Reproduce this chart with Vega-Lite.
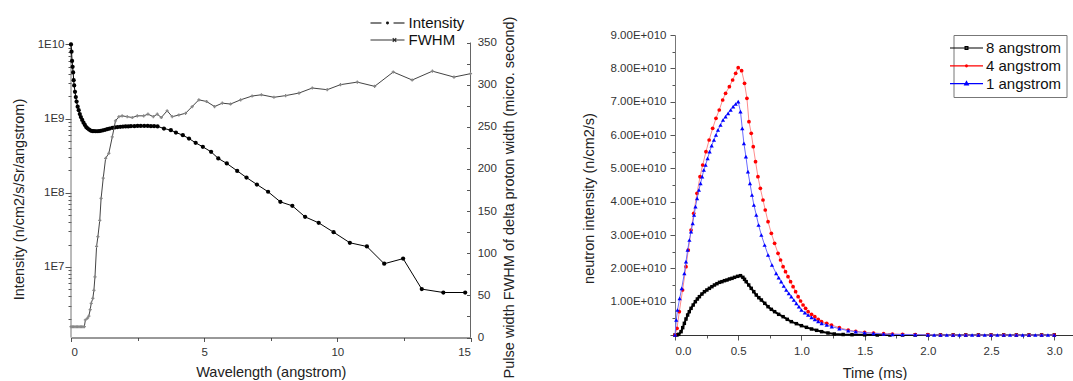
{
"$schema": "https://vega.github.io/schema/vega-lite/v6.json",
"background": "white",
"padding": {"left": 11, "top": 15, "right": 0, "bottom": 0},
"bounds": "flush",
"spacing": 204,
"resolve": {"scale": {"color": "independent", "shape": "independent"}, "legend": {"color": "independent", "shape": "independent"}},
"config": {
  "font": "Liberation Sans",
  "view": {"stroke": null},
  "axis": {"grid": false, "labelFont": "Liberation Sans", "titleFont": "Liberation Sans", "labelColor": "#333", "titleColor": "#222", "titleFontWeight": "normal", "domainColor": "#444", "tickColor": "#555", "labelFontSize": 11.5, "titleFontSize": 14.5},
  "legend": {"labelFont": "Liberation Sans", "labelColor": "#111"}
},
"datasets": {
  "intensity": [
    {"w":0,"v":1.0e10},{"w":0.02,"v":8.0e9},{"w":0.04,"v":6.0e9},{"w":0.06,"v":5.0e9},{"w":0.08,"v":4.2e9},{"w":0.10,"v":3.3e9},{"w":0.12,"v":2.8e9},{"w":0.15,"v":2.3e9},{"w":0.18,"v":1.95e9},{"w":0.21,"v":1.7e9},{"w":0.25,"v":1.45e9},{"w":0.29,"v":1.3e9},{"w":0.33,"v":1.15e9},{"w":0.37,"v":1.05e9},{"w":0.42,"v":9.6e8},{"w":0.47,"v":8.8e8},{"w":0.52,"v":8.2e8},{"w":0.57,"v":7.7e8},{"w":0.62,"v":7.4e8},{"w":0.68,"v":7.1e8},{"w":0.74,"v":6.9e8},{"w":0.80,"v":6.8e8},{"w":0.86,"v":6.8e8},{"w":0.92,"v":6.75e8},{"w":0.98,"v":6.75e8},{"w":1.05,"v":6.8e8},{"w":1.12,"v":6.85e8},{"w":1.20,"v":6.95e8},{"w":1.28,"v":7.05e8},{"w":1.36,"v":7.2e8},{"w":1.45,"v":7.35e8},{"w":1.55,"v":7.5e8},{"w":1.65,"v":7.6e8},{"w":1.75,"v":7.7e8},{"w":1.85,"v":7.75e8},{"w":1.95,"v":7.8e8},{"w":2.05,"v":7.85e8},{"w":2.15,"v":7.85e8},{"w":2.25,"v":7.9e8},{"w":2.38,"v":7.9e8},{"w":2.50,"v":7.95e8},{"w":2.62,"v":7.95e8},{"w":2.75,"v":7.95e8},{"w":2.88,"v":7.95e8},{"w":3.00,"v":7.9e8},{"w":3.12,"v":7.9e8},{"w":3.25,"v":7.85e8},
    {"w":3.49,"v":7.35e8},{"w":3.75,"v":6.98e8},{"w":3.94,"v":6.49e8},{"w":4.2,"v":5.97e8},{"w":4.43,"v":5.38e8},{"w":4.68,"v":4.71e8},{"w":4.95,"v":4.16e8},{"w":5.26,"v":3.56e8},{"w":5.53,"v":2.90e8},{"w":5.85,"v":2.48e8},{"w":6.24,"v":1.97e8},{"w":6.59,"v":1.60e8},{"w":6.98,"v":1.29e8},{"w":7.40,"v":1.03e8},{"w":7.86,"v":7.53e7},{"w":8.31,"v":6.65e7},{"w":8.79,"v":4.72e7},{"w":9.30,"v":3.92e7},{"w":9.86,"v":2.93e7},{"w":10.47,"v":2.11e7},{"w":11.11,"v":1.88e7},{"w":11.76,"v":1.10e7},{"w":12.47,"v":1.29e7},{"w":13.17,"v":5.0e6},{"w":13.98,"v":4.5e6},{"w":14.8,"v":4.5e6}
  ],
  "fwhm": [
    {"w":0,"v":12.8},{"w":0.05,"v":12.8},{"w":0.1,"v":12.8},{"w":0.15,"v":12.8},{"w":0.2,"v":12.8},{"w":0.25,"v":12.8},{"w":0.3,"v":12.8},{"w":0.35,"v":12.8},{"w":0.4,"v":12.8},{"w":0.45,"v":12.8},{"w":0.5,"v":12.8},{"w":0.54,"v":20.8},{"w":0.62,"v":23},{"w":0.67,"v":25.5},{"w":0.72,"v":33},{"w":0.76,"v":40.6},{"w":0.82,"v":46.5},{"w":0.86,"v":56},{"w":0.90,"v":72},{"w":0.96,"v":108},{"w":1.01,"v":119.6},{"w":1.08,"v":139},{"w":1.13,"v":165},{"w":1.21,"v":189},{"w":1.30,"v":212.6},{"w":1.42,"v":218.5},{"w":1.55,"v":238},{"w":1.67,"v":257},{"w":1.80,"v":262},{"w":1.92,"v":263},{"w":2.11,"v":262},{"w":2.30,"v":261},{"w":2.49,"v":263},{"w":2.73,"v":263},{"w":2.89,"v":265},{"w":3.09,"v":262},{"w":3.24,"v":265},{"w":3.39,"v":261},{"w":3.61,"v":269},{"w":3.80,"v":262},{"w":4.05,"v":264},{"w":4.30,"v":266},{"w":4.55,"v":274},{"w":4.80,"v":282},{"w":5.09,"v":280},{"w":5.39,"v":274},{"w":5.68,"v":278},{"w":5.99,"v":277},{"w":6.37,"v":282},{"w":6.80,"v":286.5},{"w":7.15,"v":288},{"w":7.62,"v":285},{"w":8.06,"v":287},{"w":8.56,"v":290},{"w":9.06,"v":296},{"w":9.62,"v":294},{"w":10.12,"v":300},{"w":10.75,"v":303},{"w":11.40,"v":298},{"w":12.10,"v":315},{"w":12.81,"v":305.5},{"w":13.57,"v":316},{"w":14.38,"v":309},{"w":15.0,"v":313}
  ],
  "intFrame": [{"w":0,"v":1.112e6,"v2":1.065e10}],
  "fwFrame": [{"w":15,"v":0,"v2":350}],
  "legendLeft": [{"w":1,"v":1e9,"s":"Intensity"},{"w":1,"v":1e9,"s":"FWHM"}],
  "legendRight": [{"t":1,"v":1e10,"s":"8 angstrom"},{"t":1,"v":1e10,"s":"4 angstrom"},{"t":1,"v":1e10,"s":"1 angstrom"}],
  "r8": [
    {"t":0,"v":0},{"t":0.015,"v":0},{"t":0.03,"v":0.02e10},{"t":0.048,"v":0.1e10},{"t":0.061,"v":0.22e10},{"t":0.074,"v":0.35e10},{"t":0.087,"v":0.48e10},{"t":0.1,"v":0.6e10},{"t":0.113,"v":0.7e10},{"t":0.127,"v":0.8e10},{"t":0.144,"v":0.9e10},{"t":0.161,"v":1.0e10},{"t":0.177,"v":1.08e10},{"t":0.193,"v":1.15e10},{"t":0.213,"v":1.23e10},{"t":0.233,"v":1.3e10},{"t":0.252,"v":1.35e10},{"t":0.272,"v":1.4e10},{"t":0.292,"v":1.45e10},{"t":0.312,"v":1.5e10},{"t":0.332,"v":1.54e10},{"t":0.352,"v":1.58e10},{"t":0.371,"v":1.6e10},{"t":0.391,"v":1.63e10},{"t":0.411,"v":1.65e10},{"t":0.431,"v":1.68e10},{"t":0.451,"v":1.7e10},{"t":0.471,"v":1.73e10},{"t":0.495,"v":1.76e10},{"t":0.518,"v":1.78e10},{"t":0.537,"v":1.73e10},{"t":0.55,"v":1.67e10},{"t":0.563,"v":1.6e10},{"t":0.583,"v":1.5e10},{"t":0.603,"v":1.4e10},{"t":0.623,"v":1.3e10},{"t":0.643,"v":1.2e10},{"t":0.663,"v":1.12e10},{"t":0.683,"v":1.05e10},{"t":0.71,"v":0.95e10},{"t":0.736,"v":0.85e10},{"t":0.762,"v":0.77e10},{"t":0.788,"v":0.7e10},{"t":0.82,"v":0.62e10},{"t":0.855,"v":0.55e10},{"t":0.888,"v":0.47e10},{"t":0.92,"v":0.4e10},{"t":0.96,"v":0.34e10},{"t":1.0,"v":0.28e10},{"t":1.04,"v":0.23e10},{"t":1.08,"v":0.18e10},{"t":1.12,"v":0.14e10},{"t":1.16,"v":0.1e10},{"t":1.21,"v":0.06e10},{"t":1.26,"v":0.03e10},{"t":1.33,"v":0.015e10},{"t":1.4,"v":0.01e10},{"t":1.5,"v":0.005e10},{"t":1.6,"v":0},{"t":1.7,"v":0},{"t":1.8,"v":0},{"t":1.9,"v":0},{"t":2.0,"v":0},{"t":2.1,"v":0},{"t":2.2,"v":0},{"t":2.3,"v":0},{"t":2.4,"v":0},{"t":2.5,"v":0},{"t":2.6,"v":0},{"t":2.7,"v":0},{"t":2.8,"v":0},{"t":2.9,"v":0},{"t":3.0,"v":0}
  ],
  "r4": [
    {"t":0,"v":0},{"t":0.016,"v":0.2e10},{"t":0.034,"v":0.7e10},{"t":0.06,"v":1.35e10},{"t":0.087,"v":2.05e10},{"t":0.105,"v":2.55e10},{"t":0.127,"v":3.15e10},{"t":0.148,"v":3.65e10},{"t":0.174,"v":4.25e10},{"t":0.198,"v":4.75e10},{"t":0.219,"v":5.1e10},{"t":0.245,"v":5.5e10},{"t":0.27,"v":5.85e10},{"t":0.298,"v":6.2e10},{"t":0.324,"v":6.5e10},{"t":0.35,"v":6.75e10},{"t":0.377,"v":7.05e10},{"t":0.4,"v":7.25e10},{"t":0.43,"v":7.45e10},{"t":0.456,"v":7.65e10},{"t":0.48,"v":7.85e10},{"t":0.5,"v":8.02e10},{"t":0.527,"v":7.93e10},{"t":0.55,"v":7.55e10},{"t":0.569,"v":7.1e10},{"t":0.585,"v":6.4e10},{"t":0.603,"v":6.05e10},{"t":0.619,"v":5.65e10},{"t":0.637,"v":5.2e10},{"t":0.656,"v":4.75e10},{"t":0.675,"v":4.4e10},{"t":0.696,"v":4.05e10},{"t":0.714,"v":3.75e10},{"t":0.736,"v":3.4e10},{"t":0.762,"v":3.05e10},{"t":0.788,"v":2.75e10},{"t":0.815,"v":2.45e10},{"t":0.835,"v":2.25e10},{"t":0.855,"v":2.05e10},{"t":0.874,"v":1.9e10},{"t":0.894,"v":1.75e10},{"t":0.914,"v":1.6e10},{"t":0.934,"v":1.45e10},{"t":0.954,"v":1.3e10},{"t":0.974,"v":1.15e10},{"t":0.993,"v":1.02e10},{"t":1.013,"v":0.9e10},{"t":1.033,"v":0.8e10},{"t":1.053,"v":0.7e10},{"t":1.08,"v":0.62e10},{"t":1.106,"v":0.55e10},{"t":1.133,"v":0.47e10},{"t":1.159,"v":0.4e10},{"t":1.2,"v":0.35e10},{"t":1.238,"v":0.3e10},{"t":1.3,"v":0.22e10},{"t":1.37,"v":0.15e10},{"t":1.43,"v":0.11e10},{"t":1.5,"v":0.08e10},{"t":1.57,"v":0.06e10},{"t":1.65,"v":0.04e10},{"t":1.72,"v":0.03e10},{"t":1.8,"v":0.02e10},{"t":1.9,"v":0.015e10},{"t":2.0,"v":0.01e10},{"t":2.1,"v":0},{"t":2.2,"v":0},{"t":2.3,"v":0},{"t":2.4,"v":0},{"t":2.5,"v":0},{"t":2.6,"v":0},{"t":2.7,"v":0},{"t":2.8,"v":0},{"t":2.9,"v":0},{"t":3.0,"v":0}
  ],
  "r1": [
    {"t":0,"v":0},{"t":0.01,"v":0.45e10},{"t":0.02,"v":0.75e10},{"t":0.037,"v":1.1e10},{"t":0.053,"v":1.4e10},{"t":0.074,"v":1.85e10},{"t":0.087,"v":2.2e10},{"t":0.1,"v":2.55e10},{"t":0.114,"v":2.85e10},{"t":0.127,"v":3.1e10},{"t":0.14,"v":3.35e10},{"t":0.151,"v":3.6e10},{"t":0.162,"v":3.85e10},{"t":0.175,"v":4.1e10},{"t":0.189,"v":4.35e10},{"t":0.202,"v":4.55e10},{"t":0.215,"v":4.75e10},{"t":0.228,"v":4.95e10},{"t":0.242,"v":5.1e10},{"t":0.258,"v":5.3e10},{"t":0.274,"v":5.5e10},{"t":0.29,"v":5.68e10},{"t":0.308,"v":5.85e10},{"t":0.324,"v":6.0e10},{"t":0.34,"v":6.15e10},{"t":0.36,"v":6.3e10},{"t":0.38,"v":6.45e10},{"t":0.4,"v":6.55e10},{"t":0.42,"v":6.65e10},{"t":0.44,"v":6.75e10},{"t":0.46,"v":6.85e10},{"t":0.48,"v":6.93e10},{"t":0.5,"v":7.0e10},{"t":0.518,"v":6.7e10},{"t":0.532,"v":6.2e10},{"t":0.545,"v":5.75e10},{"t":0.561,"v":5.35e10},{"t":0.577,"v":4.9e10},{"t":0.593,"v":4.55e10},{"t":0.609,"v":4.2e10},{"t":0.624,"v":3.9e10},{"t":0.643,"v":3.6e10},{"t":0.661,"v":3.3e10},{"t":0.683,"v":3.0e10},{"t":0.709,"v":2.7e10},{"t":0.736,"v":2.4e10},{"t":0.767,"v":2.1e10},{"t":0.8,"v":1.85e10},{"t":0.82,"v":1.72e10},{"t":0.84,"v":1.6e10},{"t":0.86,"v":1.47e10},{"t":0.88,"v":1.35e10},{"t":0.9,"v":1.25e10},{"t":0.92,"v":1.15e10},{"t":0.94,"v":1.05e10},{"t":0.96,"v":0.95e10},{"t":0.98,"v":0.85e10},{"t":1.0,"v":0.75e10},{"t":1.027,"v":0.67e10},{"t":1.053,"v":0.6e10},{"t":1.08,"v":0.53e10},{"t":1.106,"v":0.47e10},{"t":1.133,"v":0.41e10},{"t":1.16,"v":0.35e10},{"t":1.2,"v":0.3e10},{"t":1.24,"v":0.25e10},{"t":1.3,"v":0.19e10},{"t":1.37,"v":0.13e10},{"t":1.43,"v":0.1e10},{"t":1.5,"v":0.07e10},{"t":1.57,"v":0.05e10},{"t":1.65,"v":0.03e10},{"t":1.72,"v":0.02e10},{"t":1.8,"v":0.015e10},{"t":1.9,"v":0.01e10},{"t":2.0,"v":0.005e10},{"t":2.05,"v":0},{"t":2.1,"v":0},{"t":2.15,"v":0},{"t":2.2,"v":0},{"t":2.25,"v":0},{"t":2.3,"v":0},{"t":2.35,"v":0},{"t":2.4,"v":0},{"t":2.45,"v":0},{"t":2.5,"v":0},{"t":2.55,"v":0},{"t":2.6,"v":0},{"t":2.65,"v":0},{"t":2.7,"v":0},{"t":2.75,"v":0},{"t":2.8,"v":0},{"t":2.85,"v":0},{"t":2.9,"v":0},{"t":2.95,"v":0},{"t":3.0,"v":0}
  ]
},
"hconcat": [
  {
    "width": 399.5,
    "height": 302.5,
    "layer": [
      {
        "layer": [
          {"data": {"name": "intFrame"}, "mark": {"type": "rule", "color": "#777", "strokeWidth": 1},
           "encoding": {
             "x": {"field": "w", "type": "quantitative", "scale": {"domain": [0, 15], "nice": false, "zero": false}, "axis": {"title": "Wavelength (angstrom)", "values": [0, 2.5, 5, 7.5, 10, 12.5, 15], "labelExpr": "datum.value % 5 === 0 ? format(datum.value, 'd') : ''", "tickSize": {"condition": {"test": "datum.value % 5 === 0", "value": 4}, "value": 3}, "labelPadding": 5, "titlePadding": 7, "domainColor": "#333"}},
             "y": {"field": "v", "type": "quantitative", "scale": {"type": "log", "domain": [1.112e6, 1.343e10], "nice": false}, "axis": {"orient": "left", "title": "Intensity (n/cm2/s/Sr/angstrom)", "domain": false, "values": [2e6,3e6,4e6,5e6,6e6,7e6,8e6,9e6,1e7,2e7,3e7,4e7,5e7,6e7,7e7,8e7,9e7,1e8,2e8,3e8,4e8,5e8,6e8,7e8,8e8,9e8,1e9,2e9,3e9,4e9,5e9,6e9,7e9,8e9,9e9,1e10], "labelExpr": "datum.value == 1e7 ? '1E7' : datum.value == 1e8 ? '1E8' : datum.value == 1e9 ? '1E9' : datum.value == 1e10 ? '1E10' : ''", "tickSize": {"condition": {"test": "datum.value == 1e7 || datum.value == 1e8 || datum.value == 1e9 || datum.value == 1e10", "value": 6}, "value": 3}, "labelPadding": 1, "titlePadding": 11, "titleY": 164}},
             "y2": {"field": "v2"}
           }},
          {"data": {"name": "intensity"}, "mark": {"type": "line", "color": "#000", "strokeWidth": 1},
           "encoding": {
             "x": {"field": "w", "type": "quantitative", "scale": {"domain": [0, 15], "nice": false, "zero": false}, "axis": {"title": "Wavelength (angstrom)", "values": [0, 2.5, 5, 7.5, 10, 12.5, 15], "labelExpr": "datum.value % 5 === 0 ? format(datum.value, 'd') : ''", "tickSize": {"condition": {"test": "datum.value % 5 === 0", "value": 4}, "value": 3}, "labelPadding": 5, "titlePadding": 7, "domainColor": "#333"}},
             "y": {"field": "v", "type": "quantitative", "scale": {"type": "log", "domain": [1.112e6, 1.343e10], "nice": false}, "axis": {"orient": "left", "title": "Intensity (n/cm2/s/Sr/angstrom)", "domain": false, "values": [2e6,3e6,4e6,5e6,6e6,7e6,8e6,9e6,1e7,2e7,3e7,4e7,5e7,6e7,7e7,8e7,9e7,1e8,2e8,3e8,4e8,5e8,6e8,7e8,8e8,9e8,1e9,2e9,3e9,4e9,5e9,6e9,7e9,8e9,9e9,1e10], "labelExpr": "datum.value == 1e7 ? '1E7' : datum.value == 1e8 ? '1E8' : datum.value == 1e9 ? '1E9' : datum.value == 1e10 ? '1E10' : ''", "tickSize": {"condition": {"test": "datum.value == 1e7 || datum.value == 1e8 || datum.value == 1e9 || datum.value == 1e10", "value": 6}, "value": 3}, "labelPadding": 1, "titlePadding": 11, "titleY": 164}}
           }},
          {"data": {"name": "intensity"}, "mark": {"type": "point", "filled": true, "color": "#000", "size": 18, "opacity": 1},
           "encoding": {
             "x": {"field": "w", "type": "quantitative", "scale": {"domain": [0, 15], "nice": false, "zero": false}, "axis": {"title": "Wavelength (angstrom)", "values": [0, 2.5, 5, 7.5, 10, 12.5, 15], "labelExpr": "datum.value % 5 === 0 ? format(datum.value, 'd') : ''", "tickSize": {"condition": {"test": "datum.value % 5 === 0", "value": 4}, "value": 3}, "labelPadding": 5, "titlePadding": 7, "domainColor": "#333"}},
             "y": {"field": "v", "type": "quantitative", "scale": {"type": "log", "domain": [1.112e6, 1.343e10], "nice": false}, "axis": {"orient": "left", "title": "Intensity (n/cm2/s/Sr/angstrom)", "domain": false, "values": [2e6,3e6,4e6,5e6,6e6,7e6,8e6,9e6,1e7,2e7,3e7,4e7,5e7,6e7,7e7,8e7,9e7,1e8,2e8,3e8,4e8,5e8,6e8,7e8,8e8,9e8,1e9,2e9,3e9,4e9,5e9,6e9,7e9,8e9,9e9,1e10], "labelExpr": "datum.value == 1e7 ? '1E7' : datum.value == 1e8 ? '1E8' : datum.value == 1e9 ? '1E9' : datum.value == 1e10 ? '1E10' : ''", "tickSize": {"condition": {"test": "datum.value == 1e7 || datum.value == 1e8 || datum.value == 1e9 || datum.value == 1e10", "value": 6}, "value": 3}, "labelPadding": 1, "titlePadding": 11, "titleY": 164}}
           }},
          {"data": {"name": "legendLeft"}, "mark": {"type": "point", "filled": false, "opacity": 0, "strokeWidth": 1.2},
           "encoding": {
             "x": {"field": "w", "type": "quantitative", "scale": {"domain": [0, 15], "nice": false, "zero": false}, "axis": {"title": "Wavelength (angstrom)", "values": [0, 2.5, 5, 7.5, 10, 12.5, 15], "labelExpr": "datum.value % 5 === 0 ? format(datum.value, 'd') : ''", "tickSize": {"condition": {"test": "datum.value % 5 === 0", "value": 4}, "value": 3}, "labelPadding": 5, "titlePadding": 7, "domainColor": "#333"}},
             "y": {"field": "v", "type": "quantitative", "scale": {"type": "log", "domain": [1.112e6, 1.343e10], "nice": false}, "axis": {"orient": "left", "title": "Intensity (n/cm2/s/Sr/angstrom)", "domain": false, "values": [2e6,3e6,4e6,5e6,6e6,7e6,8e6,9e6,1e7,2e7,3e7,4e7,5e7,6e7,7e7,8e7,9e7,1e8,2e8,3e8,4e8,5e8,6e8,7e8,8e8,9e8,1e9,2e9,3e9,4e9,5e9,6e9,7e9,8e9,9e9,1e10], "labelExpr": "datum.value == 1e7 ? '1E7' : datum.value == 1e8 ? '1E8' : datum.value == 1e9 ? '1E9' : datum.value == 1e10 ? '1E10' : ''", "tickSize": {"condition": {"test": "datum.value == 1e7 || datum.value == 1e8 || datum.value == 1e9 || datum.value == 1e10", "value": 6}, "value": 3}, "labelPadding": 1, "titlePadding": 11, "titleY": 164}},
             "color": {"field": "s", "type": "nominal", "scale": {"domain": ["Intensity", "FWHM"], "range": ["#000000", "#333333"]}, "legend": {"orient": "none", "legendX": 308.5, "legendY": -20, "title": null, "symbolSize": 196, "symbolStrokeWidth": 1.2, "symbolOpacity": 1, "labelFontSize": 15, "labelOffset": 13, "rowPadding": 1, "padding": 0}},
             "shape": {"field": "s", "type": "nominal", "scale": {"domain": ["Intensity", "FWHM"], "range": ["M-2.43,0H-0.86M0.86,0H2.43M-0.12,0A0.12,0.12,0,1,1,0.12,0A0.12,0.12,0,1,1,-0.12,0Z", "M-2.43,0H2.43M0.75,-0.25L1.25,0.25M0.75,0.25L1.25,-0.25"]}, "legend": {"orient": "none", "legendX": 308.5, "legendY": -20, "title": null, "symbolSize": 196, "symbolStrokeWidth": 1.2, "symbolOpacity": 1, "labelFontSize": 15, "labelOffset": 13, "rowPadding": 1, "padding": 0}}
           }}
        ]
      },
      {
        "layer": [
          {"data": {"name": "fwFrame"}, "mark": {"type": "rule", "color": "#666", "strokeWidth": 1},
           "encoding": {
             "x": {"field": "w", "type": "quantitative", "scale": {"domain": [0, 15], "nice": false, "zero": false}},
             "y": {"field": "v", "type": "quantitative", "scale": {"domain": [0, 358.9], "nice": false, "zero": false}, "axis": {"orient": "right", "title": "Pulse width FWHM of delta proton width (micro. second)", "domain": false, "values": [0,25,50,75,100,125,150,175,200,225,250,275,300,325,350], "labelExpr": "datum.value % 50 === 0 ? format(datum.value, 'd') : ''", "tickSize": -4, "labelPadding": 10.7, "titlePadding": 6, "titleAngle": 270, "titleBaseline": "top", "titleY": 162}},
             "y2": {"field": "v2"}
           }},
          {"data": {"name": "fwhm"}, "mark": {"type": "line", "color": "#444", "strokeWidth": 1},
           "encoding": {
             "x": {"field": "w", "type": "quantitative", "scale": {"domain": [0, 15], "nice": false, "zero": false}},
             "y": {"field": "v", "type": "quantitative", "scale": {"domain": [0, 358.9], "nice": false, "zero": false}, "axis": {"orient": "right", "title": "Pulse width FWHM of delta proton width (micro. second)", "domain": false, "values": [0,25,50,75,100,125,150,175,200,225,250,275,300,325,350], "labelExpr": "datum.value % 50 === 0 ? format(datum.value, 'd') : ''", "tickSize": -4, "labelPadding": 10.7, "titlePadding": 6, "titleAngle": 270, "titleBaseline": "top", "titleY": 162}}
           }},
          {"data": {"name": "fwhm"}, "mark": {"type": "point", "shape": "cross", "filled": true, "color": "#888", "size": 10, "opacity": 1},
           "encoding": {
             "x": {"field": "w", "type": "quantitative", "scale": {"domain": [0, 15], "nice": false, "zero": false}},
             "y": {"field": "v", "type": "quantitative", "scale": {"domain": [0, 358.9], "nice": false, "zero": false}, "axis": {"orient": "right", "title": "Pulse width FWHM of delta proton width (micro. second)", "domain": false, "values": [0,25,50,75,100,125,150,175,200,225,250,275,300,325,350], "labelExpr": "datum.value % 50 === 0 ? format(datum.value, 'd') : ''", "tickSize": -4, "labelPadding": 10.7, "titlePadding": 6, "titleAngle": 270, "titleBaseline": "top", "titleY": 162}}
           }}
        ]
      }
    ],
    "resolve": {"scale": {"y": "independent"}}
  },
  {
    "width": 399,
    "height": 300,
    "layer": [
      {"data": {"name": "r8"}, "mark": {"type": "line", "color": "#000", "strokeWidth": 2},
       "encoding": {
         "x": {"field": "t", "type": "quantitative", "scale": {"domain": [0, 3.156], "nice": false, "zero": false}, "axis": {"title": "Time (ms)", "values": [0,0.25,0.5,0.75,1,1.25,1.5,1.75,2,2.25,2.5,2.75,3], "labelExpr": "datum.value % 0.5 === 0 ? format(datum.value, '.1f') : ''", "tickSize": {"condition": {"test": "datum.value % 0.5 === 0", "value": 5}, "value": 3}, "labelPadding": 5, "titlePadding": 10, "domainColor": "#333"}},
         "y": {"field": "v", "type": "quantitative", "scale": {"domain": [0, 9e10], "nice": false, "zero": false}, "axis": {"title": "neutron intensity (n/cm2/s)", "values": [0,0.5e10,1e10,1.5e10,2e10,2.5e10,3e10,3.5e10,4e10,4.5e10,5e10,5.5e10,6e10,6.5e10,7e10,7.5e10,8e10,8.5e10,9e10], "labelExpr": "datum.value > 0 && datum.value % 1e10 === 0 ? replace(upper(format(datum.value, '.2e')), 'E+', 'E+0') : ''", "tickSize": {"condition": {"test": "datum.value % 1e10 === 0", "value": 5}, "value": 3}, "labelPadding": 4, "titlePadding": 14, "titleY": 163, "domainColor": "#777"}}
       }},
      {"data": {"name": "r8"}, "mark": {"type": "point", "shape": "square", "filled": true, "color": "#000", "size": 12, "opacity": 1},
       "encoding": {
         "x": {"field": "t", "type": "quantitative", "scale": {"domain": [0, 3.156], "nice": false, "zero": false}, "axis": {"title": "Time (ms)", "values": [0,0.25,0.5,0.75,1,1.25,1.5,1.75,2,2.25,2.5,2.75,3], "labelExpr": "datum.value % 0.5 === 0 ? format(datum.value, '.1f') : ''", "tickSize": {"condition": {"test": "datum.value % 0.5 === 0", "value": 5}, "value": 3}, "labelPadding": 5, "titlePadding": 10, "domainColor": "#333"}},
         "y": {"field": "v", "type": "quantitative", "scale": {"domain": [0, 9e10], "nice": false, "zero": false}, "axis": {"title": "neutron intensity (n/cm2/s)", "values": [0,0.5e10,1e10,1.5e10,2e10,2.5e10,3e10,3.5e10,4e10,4.5e10,5e10,5.5e10,6e10,6.5e10,7e10,7.5e10,8e10,8.5e10,9e10], "labelExpr": "datum.value > 0 && datum.value % 1e10 === 0 ? replace(upper(format(datum.value, '.2e')), 'E+', 'E+0') : ''", "tickSize": {"condition": {"test": "datum.value % 1e10 === 0", "value": 5}, "value": 3}, "labelPadding": 4, "titlePadding": 14, "titleY": 163, "domainColor": "#777"}}
       }},
      {"data": {"name": "r4"}, "mark": {"type": "line", "color": "#ff8c8c", "strokeWidth": 1},
       "encoding": {
         "x": {"field": "t", "type": "quantitative", "scale": {"domain": [0, 3.156], "nice": false, "zero": false}, "axis": {"title": "Time (ms)", "values": [0,0.25,0.5,0.75,1,1.25,1.5,1.75,2,2.25,2.5,2.75,3], "labelExpr": "datum.value % 0.5 === 0 ? format(datum.value, '.1f') : ''", "tickSize": {"condition": {"test": "datum.value % 0.5 === 0", "value": 5}, "value": 3}, "labelPadding": 5, "titlePadding": 10, "domainColor": "#333"}},
         "y": {"field": "v", "type": "quantitative", "scale": {"domain": [0, 9e10], "nice": false, "zero": false}, "axis": {"title": "neutron intensity (n/cm2/s)", "values": [0,0.5e10,1e10,1.5e10,2e10,2.5e10,3e10,3.5e10,4e10,4.5e10,5e10,5.5e10,6e10,6.5e10,7e10,7.5e10,8e10,8.5e10,9e10], "labelExpr": "datum.value > 0 && datum.value % 1e10 === 0 ? replace(upper(format(datum.value, '.2e')), 'E+', 'E+0') : ''", "tickSize": {"condition": {"test": "datum.value % 1e10 === 0", "value": 5}, "value": 3}, "labelPadding": 4, "titlePadding": 14, "titleY": 163, "domainColor": "#777"}}
       }},
      {"data": {"name": "r4"}, "mark": {"type": "point", "shape": "circle", "filled": true, "color": "#ff0000", "size": 14, "opacity": 1},
       "encoding": {
         "x": {"field": "t", "type": "quantitative", "scale": {"domain": [0, 3.156], "nice": false, "zero": false}, "axis": {"title": "Time (ms)", "values": [0,0.25,0.5,0.75,1,1.25,1.5,1.75,2,2.25,2.5,2.75,3], "labelExpr": "datum.value % 0.5 === 0 ? format(datum.value, '.1f') : ''", "tickSize": {"condition": {"test": "datum.value % 0.5 === 0", "value": 5}, "value": 3}, "labelPadding": 5, "titlePadding": 10, "domainColor": "#333"}},
         "y": {"field": "v", "type": "quantitative", "scale": {"domain": [0, 9e10], "nice": false, "zero": false}, "axis": {"title": "neutron intensity (n/cm2/s)", "values": [0,0.5e10,1e10,1.5e10,2e10,2.5e10,3e10,3.5e10,4e10,4.5e10,5e10,5.5e10,6e10,6.5e10,7e10,7.5e10,8e10,8.5e10,9e10], "labelExpr": "datum.value > 0 && datum.value % 1e10 === 0 ? replace(upper(format(datum.value, '.2e')), 'E+', 'E+0') : ''", "tickSize": {"condition": {"test": "datum.value % 1e10 === 0", "value": 5}, "value": 3}, "labelPadding": 4, "titlePadding": 14, "titleY": 163, "domainColor": "#777"}}
       }},
      {"data": {"name": "r1"}, "mark": {"type": "line", "color": "#6a6aff", "strokeWidth": 1},
       "encoding": {
         "x": {"field": "t", "type": "quantitative", "scale": {"domain": [0, 3.156], "nice": false, "zero": false}, "axis": {"title": "Time (ms)", "values": [0,0.25,0.5,0.75,1,1.25,1.5,1.75,2,2.25,2.5,2.75,3], "labelExpr": "datum.value % 0.5 === 0 ? format(datum.value, '.1f') : ''", "tickSize": {"condition": {"test": "datum.value % 0.5 === 0", "value": 5}, "value": 3}, "labelPadding": 5, "titlePadding": 10, "domainColor": "#333"}},
         "y": {"field": "v", "type": "quantitative", "scale": {"domain": [0, 9e10], "nice": false, "zero": false}, "axis": {"title": "neutron intensity (n/cm2/s)", "values": [0,0.5e10,1e10,1.5e10,2e10,2.5e10,3e10,3.5e10,4e10,4.5e10,5e10,5.5e10,6e10,6.5e10,7e10,7.5e10,8e10,8.5e10,9e10], "labelExpr": "datum.value > 0 && datum.value % 1e10 === 0 ? replace(upper(format(datum.value, '.2e')), 'E+', 'E+0') : ''", "tickSize": {"condition": {"test": "datum.value % 1e10 === 0", "value": 5}, "value": 3}, "labelPadding": 4, "titlePadding": 14, "titleY": 163, "domainColor": "#777"}}
       }},
      {"data": {"name": "r1"}, "mark": {"type": "point", "shape": "triangle-up", "filled": true, "color": "#0000ff", "size": 18, "opacity": 1},
       "encoding": {
         "x": {"field": "t", "type": "quantitative", "scale": {"domain": [0, 3.156], "nice": false, "zero": false}, "axis": {"title": "Time (ms)", "values": [0,0.25,0.5,0.75,1,1.25,1.5,1.75,2,2.25,2.5,2.75,3], "labelExpr": "datum.value % 0.5 === 0 ? format(datum.value, '.1f') : ''", "tickSize": {"condition": {"test": "datum.value % 0.5 === 0", "value": 5}, "value": 3}, "labelPadding": 5, "titlePadding": 10, "domainColor": "#333"}},
         "y": {"field": "v", "type": "quantitative", "scale": {"domain": [0, 9e10], "nice": false, "zero": false}, "axis": {"title": "neutron intensity (n/cm2/s)", "values": [0,0.5e10,1e10,1.5e10,2e10,2.5e10,3e10,3.5e10,4e10,4.5e10,5e10,5.5e10,6e10,6.5e10,7e10,7.5e10,8e10,8.5e10,9e10], "labelExpr": "datum.value > 0 && datum.value % 1e10 === 0 ? replace(upper(format(datum.value, '.2e')), 'E+', 'E+0') : ''", "tickSize": {"condition": {"test": "datum.value % 1e10 === 0", "value": 5}, "value": 3}, "labelPadding": 4, "titlePadding": 14, "titleY": 163, "domainColor": "#777"}}
       }},
      {"data": {"name": "legendRight"}, "mark": {"type": "point", "filled": false, "opacity": 0, "strokeWidth": 1.2},
       "encoding": {
         "x": {"field": "t", "type": "quantitative", "scale": {"domain": [0, 3.156], "nice": false, "zero": false}, "axis": {"title": "Time (ms)", "values": [0,0.25,0.5,0.75,1,1.25,1.5,1.75,2,2.25,2.5,2.75,3], "labelExpr": "datum.value % 0.5 === 0 ? format(datum.value, '.1f') : ''", "tickSize": {"condition": {"test": "datum.value % 0.5 === 0", "value": 5}, "value": 3}, "labelPadding": 5, "titlePadding": 10, "domainColor": "#333"}},
         "y": {"field": "v", "type": "quantitative", "scale": {"domain": [0, 9e10], "nice": false, "zero": false}, "axis": {"title": "neutron intensity (n/cm2/s)", "values": [0,0.5e10,1e10,1.5e10,2e10,2.5e10,3e10,3.5e10,4e10,4.5e10,5e10,5.5e10,6e10,6.5e10,7e10,7.5e10,8e10,8.5e10,9e10], "labelExpr": "datum.value > 0 && datum.value % 1e10 === 0 ? replace(upper(format(datum.value, '.2e')), 'E+', 'E+0') : ''", "tickSize": {"condition": {"test": "datum.value % 1e10 === 0", "value": 5}, "value": 3}, "labelPadding": 4, "titlePadding": 14, "titleY": 163, "domainColor": "#777"}},
         "color": {"field": "s", "type": "nominal", "scale": {"domain": ["8 angstrom", "4 angstrom", "1 angstrom"], "range": ["#000000", "#ff0000", "#0000ff"]}, "legend": {"orient": "none", "legendX": 278.5, "legendY": 0, "title": null, "symbolSize": 196, "symbolStrokeWidth": 1.2, "symbolOpacity": 1, "labelFontSize": 15, "labelOffset": 11.5, "rowPadding": 1.8, "padding": 5, "strokeColor": "#777", "fillColor": "#ffffff"}},
         "shape": {"field": "s", "type": "nominal", "scale": {"domain": ["8 angstrom", "4 angstrom", "1 angstrom"], "range": ["M-2.36,0H2.36M-0.2,-0.2H0.2V0.2H-0.2Z", "M-2.36,0H2.36M-0.14,0A0.14,0.14,0,1,1,0.14,0A0.14,0.14,0,1,1,-0.14,0Z", "M-2.36,0H2.36M0,-0.3L0.26,0.17H-0.26Z"]}, "legend": {"orient": "none", "legendX": 278.5, "legendY": 0, "title": null, "symbolSize": 196, "symbolStrokeWidth": 1.2, "symbolOpacity": 1, "labelFontSize": 15, "labelOffset": 11.5, "rowPadding": 1.8, "padding": 5, "strokeColor": "#777", "fillColor": "#ffffff"}}
       }}
    ]
  }
]
}
